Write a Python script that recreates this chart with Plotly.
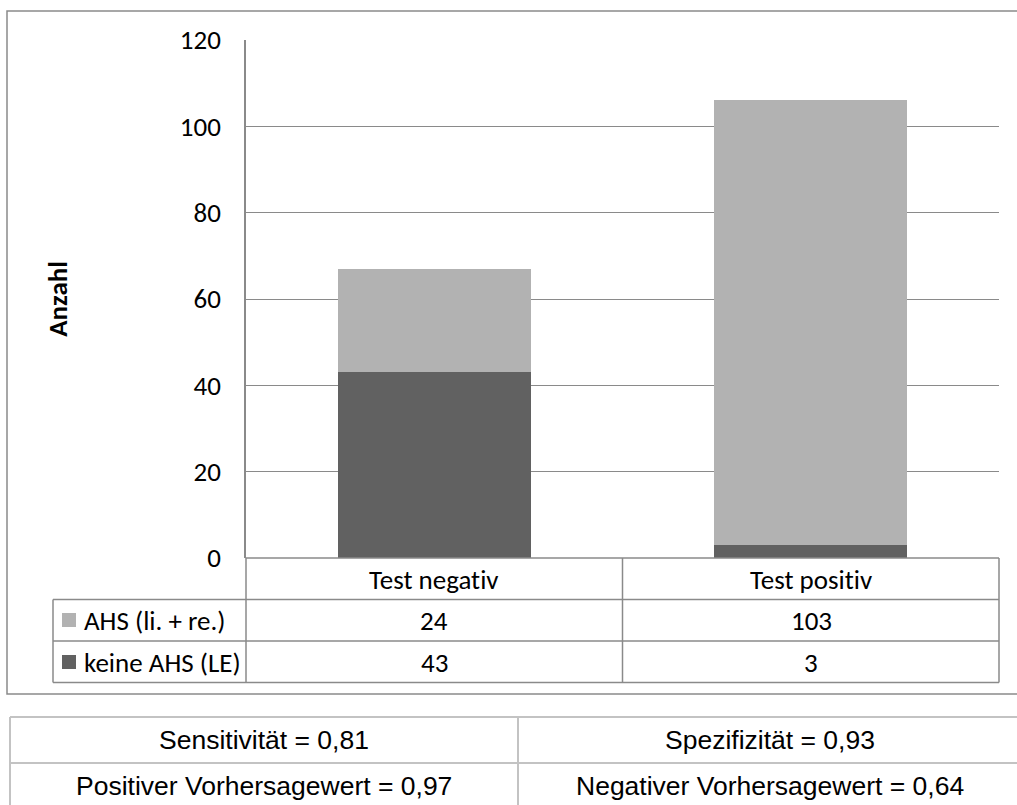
import plotly.graph_objects as go

# Data
categories = ["Test negativ", "Test positiv"]
series_names = ["keine AHS (LE)", "AHS (li. + re.)"]
keine_ahs = [43, 3]
ahs = [24, 103]
y_ticks = [0, 20, 40, 60, 80, 100, 120]
stats_left = ["Sensitivität = 0,81", "Positiver Vorhersagewert = 0,97"]
stats_right = ["Spezifizität = 0,93", "Negativer Vorhersagewert = 0,64"]

COL_DARK = "#616161"
COL_LIGHT = "#b2b2b2"
LINE = "#8a8a8a"
TABLE2 = "#c3c3c3"
FONT = "Carlito, Lato, sans-serif"
FONT2 = "Liberation Sans, Arial, sans-serif"
FS = 27

W, H = 1017, 805
L, R, T, B = 246, 999, 40, 558  # plot area in pixels


def px(x):
    return (x - L) / (R - L)


def py(y):
    return (B - y) / (B - T)


def no_lig(s):
    # keep Carlito from fusing "ti" into a ligature
    return s.replace("ti", "t\u200ci")


fig = go.Figure()
fig.add_trace(go.Bar(x=categories, y=keine_ahs, name=series_names[0],
                     marker=dict(color=COL_DARK, line=dict(width=0))))
fig.add_trace(go.Bar(x=categories, y=ahs, name=series_names[1],
                     marker=dict(color=COL_LIGHT, line=dict(width=0))))

shapes = []


def hline(y, x0, x1, color=LINE, width=1.5):
    shapes.append(dict(type="line", xref="paper", yref="paper",
                       x0=px(x0), x1=px(x1), y0=py(y), y1=py(y),
                       line=dict(color=color, width=width)))


def vline(x, y0, y1, color=LINE, width=1.5):
    shapes.append(dict(type="line", xref="paper", yref="paper",
                       x0=px(x), x1=px(x), y0=py(y0), y1=py(y1),
                       line=dict(color=color, width=width)))


# outer chart frame
shapes.append(dict(type="rect", xref="paper", yref="paper",
                   x0=px(7), x1=px(1040), y0=py(694), y1=py(11),
                   line=dict(color=LINE, width=1.5)))

# data table grid
row_y = [558, 599.5, 641, 682.5]
hline(558, L, R)
for y in row_y[1:]:
    hline(y, 53, R)
vline(53, 599.5, 682.5)
vline(L, 558, 682.5)
vline(622.5, 558, 682.5)
vline(R, 558, 682.5)

# statistics table grid
hline(717, 10, 1040, TABLE2, 2)
hline(763, 10, 1040, TABLE2, 2)
vline(10, 717, 820, TABLE2, 2)
vline(518, 717, 820, TABLE2, 2)

# legend keys inside the data table
for yc, col in [(620, COL_LIGHT), (662, COL_DARK)]:
    shapes.append(dict(type="rect", xref="paper", yref="paper",
                       x0=px(62), x1=px(76), y0=py(yc + 7), y1=py(yc - 7),
                       fillcolor=col, line=dict(width=0)))

annotations = []


def text(x, y, s, font=FONT, size=FS, xanchor="center"):
    annotations.append(dict(x=px(x), y=py(y), xref="paper", yref="paper",
                            text=s, showarrow=False, xanchor=xanchor,
                            yanchor="middle",
                            font=dict(family=font, size=size, color="#000000")))


cat_centers = [434, 811]
for xc, cat, a, k in zip(cat_centers, categories, ahs, keine_ahs):
    text(xc, 579, no_lig(cat))
    text(xc, 620, str(a))
    text(xc, 662, str(k))
text(82, 620, series_names[1], xanchor="left")
text(82, 662, series_names[0], xanchor="left")

for yc, sl, sr in zip([740, 786], stats_left, stats_right):
    text(264, yc, sl, font=FONT2, size=26.5)
    text(770, yc, sr, font=FONT2, size=26.5)

fig.update_layout(
    width=W, height=H,
    margin=dict(l=L, r=W - R, t=T, b=H - B, pad=0),
    barmode="stack", bargap=0.487,
    paper_bgcolor="white", plot_bgcolor="white",
    showlegend=False,
    shapes=shapes, annotations=annotations,
    font=dict(family=FONT, size=FS, color="#000000"),
)
fig.update_xaxes(showticklabels=False, showgrid=False, zeroline=False,
                 showline=False, ticks="")
fig.update_yaxes(range=[0, 120], tickvals=y_ticks, showgrid=True,
                 gridcolor=LINE, gridwidth=1.3, zeroline=False,
                 showline=True, linecolor=LINE, linewidth=1.5, ticks="",
                 ticklabelstandoff=18,
                 tickfont=dict(family=FONT, size=FS),
                 title=dict(text="<b>Anzahl</b>", standoff=104,
                            font=dict(family=FONT, size=FS)),
                 automargin=False)

fig.write_html("out.html")
